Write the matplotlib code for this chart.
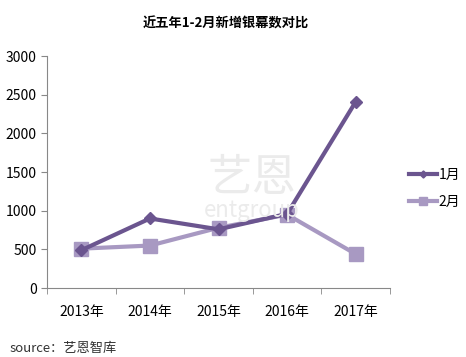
import numpy as np
import matplotlib.pyplot as plt
plt.rcParams['font.family'] = ['Noto Sans CJK SC', 'DejaVu Sans']
plt.rcParams['font.size'] = 10

years = ['2013年', '2014年', '2015年', '2016年', '2017年']
jan = [490, 900, 760, 960, 2410]
feb = [510, 550, 780, 950, 440]
title = '近五年1-2月新增银幕数对比'

fig = plt.figure(figsize=(4.66, 3.57), dpi=100)
ax = fig.add_axes([0.101, 0.193, 0.736, 0.650])

# watermark
fig.text(0.54, 0.50, '艺恩', fontsize=32, color='#ebebeb', ha='center', va='center', zorder=0)
fig.text(0.54, 0.41, 'entgroup', fontsize=16, color='#ebebeb', ha='center', va='center', zorder=0)

x = np.arange(len(years))
ax.plot(x, jan, color='#6b558f', lw=3, marker='D', ms=6, label='1月', zorder=3)
ax.plot(x, feb, color='#a899c2', lw=3, marker='s', ms=10, label='2月', zorder=2)

ax.set_xlim(-0.5, len(years) - 0.5)
ax.set_ylim(0, 3000)
ax.set_yticks(np.arange(0, 3001, 500))
ax.set_xticks(x)
ax.set_xticklabels(years)
ax.set_xticks(np.arange(-0.5, len(years), 1), minor=True)
ax.tick_params(axis='x', which='major', length=0, pad=12)
ax.tick_params(axis='x', which='minor', length=4, color='#888888')
ax.tick_params(axis='y', length=4, color='#888888')
for s in ['top', 'right']:
    ax.spines[s].set_visible(False)
for s in ['left', 'bottom']:
    ax.spines[s].set_color('#888888')
ax.patch.set_alpha(0)

ax.legend(loc='center left', bbox_to_anchor=(1.02, 0.43), frameon=False,
          handlelength=2.0, handletextpad=0.1, labelspacing=0.9, markerscale=0.6)

fig.text(0.485, 0.935, title, fontsize=9.5, fontweight='bold', ha='center', va='center')
fig.text(0.02, 0.025, 'source：艺恩智库', fontsize=9.5, color='#333333', ha='left', va='center')

plt.savefig('out.png')
